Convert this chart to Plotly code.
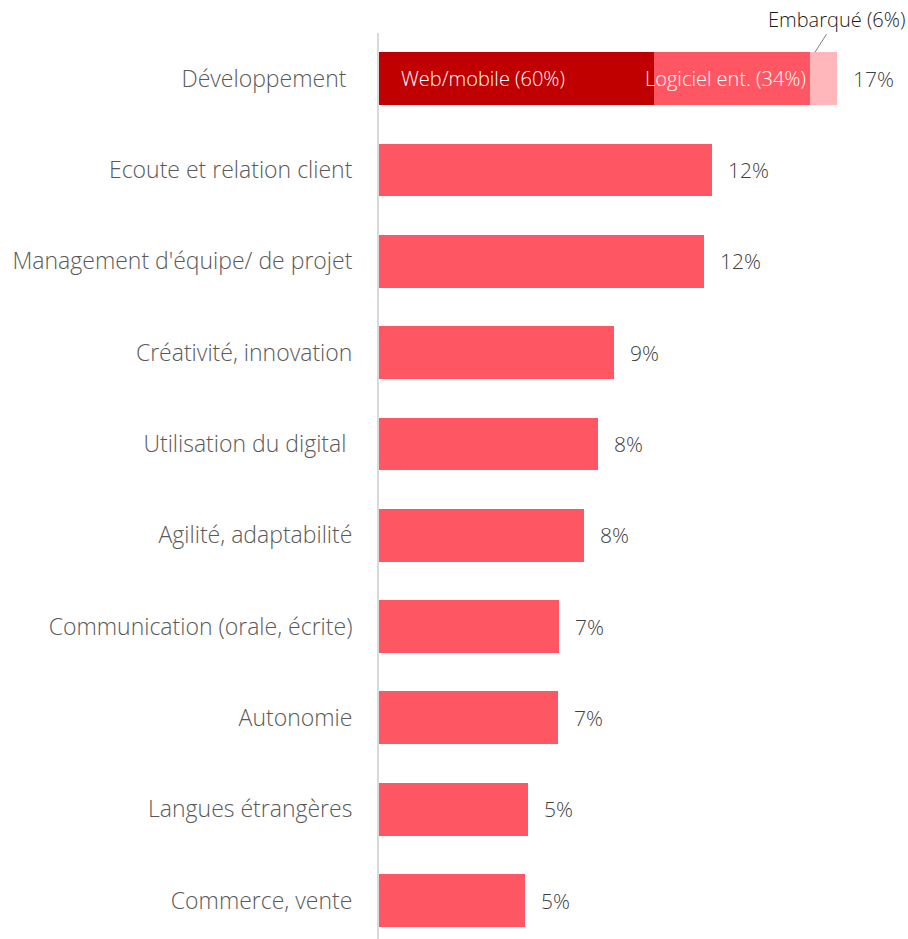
import plotly.graph_objects as go

# Skills, top to bottom
categories = [
    "Développement\u00a0",
    "Ecoute et relation client",
    "Management d'équipe/ de projet",
    "Créativité, innovation",
    "Utilisation du digital\u00a0",
    "Agilité, adaptabilité",
    "Communication (orale, écrite)",
    "Autonomie",
    "Langues étrangères",
    "Commerce, vente",
]
values = [16.84, 12.24, 11.95, 8.64, 8.05, 7.54, 6.62, 6.58, 5.48, 5.37]

# Breakdown of the "Développement" bar
dev_segments = ["Web/mobile", "Logiciel ent.", "Embarqué"]
dev_shares = [60, 34, 6]

DARK_RED = "#C00000"
RED = "#FF5664"
PINK = "#FFB7BC"
FONT = "Open Sans"

fig = go.Figure()

# Stacked segments for the first bar
seg_colors = [DARK_RED, RED, PINK]
dev_total = values[0]
seg_values = [dev_total * s / 100 for s in dev_shares]
for name, val, col in zip(dev_segments, seg_values, seg_colors):
    fig.add_trace(go.Bar(
        y=[categories[0]], x=[val], orientation="h", name=name,
        marker=dict(color=col, line=dict(width=0)), width=0.58,
        hoverinfo="skip",
    ))

# Remaining bars
fig.add_trace(go.Bar(
    y=categories[1:], x=values[1:], orientation="h",
    marker=dict(color=RED, line=dict(width=0)), width=0.58,
    hoverinfo="skip",
))

# Value labels to the right of each bar
for cat, v in zip(categories, values):
    fig.add_annotation(
        x=v, y=cat, text=f"{v:.0f}%", showarrow=False,
        xanchor="left", xshift=14,
        font=dict(family=FONT, size=21, color="#404040", weight=300),
    )

# Segment labels for the first bar
seg_font = dict(family=FONT, size=20, color="white", weight=300)
fig.add_annotation(
    x=0, y=0, text=f"{dev_segments[0]} ({dev_shares[0]}%)", showarrow=False,
    xanchor="left", xshift=20, font=seg_font,
)
fig.add_annotation(
    x=seg_values[0] + seg_values[1], y=0,
    text=f"{dev_segments[1]} ({dev_shares[1]}%)", showarrow=False,
    xanchor="right", xshift=-2, font=seg_font,
)
fig.add_annotation(
    x=seg_values[0] + seg_values[1] + seg_values[2] * 0.2, y=-0.29,
    text=f"{dev_segments[2]} ({dev_shares[2]}%)",
    showarrow=True, arrowhead=0, arrowwidth=1, arrowcolor="#7f7f7f",
    ax=21, ay=-33,
    font=dict(family=FONT, size=20, color="#1a1a1a", weight=300),
)

fig.update_layout(
    width=908, height=939,
    margin=dict(l=379, r=0, t=33, b=0),
    barmode="stack", showlegend=False,
    plot_bgcolor="white", paper_bgcolor="white",
    font=dict(family=FONT, weight=300),
)
fig.update_xaxes(
    range=[0, 19.45], showgrid=False, zeroline=False,
    showticklabels=False, showline=False,
)
fig.update_yaxes(
    categoryorder="array", categoryarray=categories,
    range=[9.42, -0.5], showgrid=False, zeroline=False,
    showline=True, linecolor="#D9D9D9", linewidth=2,
    ticks="", ticklabelstandoff=20,
    tickfont=dict(family=FONT, size=23, color="#595959", weight=300),
)

fig.write_html("out.html")
